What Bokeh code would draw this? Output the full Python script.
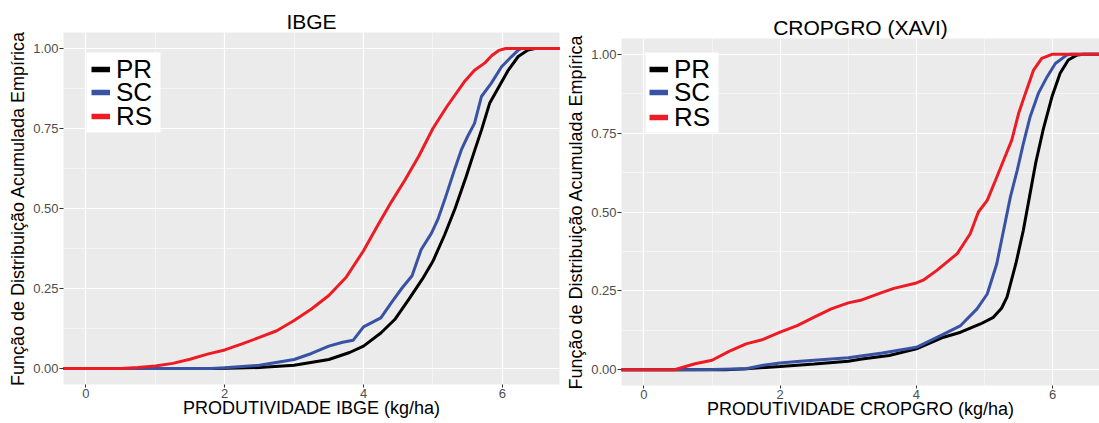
from bokeh.plotting import figure
from bokeh.layouts import row
from bokeh.models import Range1d, FixedTicker, Legend, LegendItem, BoxAnnotation, Node
from bokeh.embed import file_html
from bokeh.resources import INLINE

FONT = "Liberation Sans"

# ---------------- data ----------------
series_names = ["PR", "SC", "RS"]
series_colors = ["#000000", "#3953A4", "#ED1C24"]

x_ticks = [0, 2, 4, 6]
x_minor = [-1, 1, 3, 5, 7]
y_ticks = [0, 0.25, 0.5, 0.75, 1.0]
y_minor = [0.125, 0.375, 0.625, 0.875]
y_tick_labels = ["0.00", "0.25", "0.50", "0.75", "1.00"]
x_tick_labels = ["0", "2", "4", "6"]

# IBGE panel
ibge_pr_x = [-0.5, 1.9, 2.5, 3.0, 3.5, 3.8, 4.0, 4.25, 4.45, 4.65, 4.85, 5.0, 5.17, 5.32, 5.48, 5.6, 5.7, 5.82, 5.95, 6.08, 6.23, 6.37, 6.47, 7.0]
ibge_pr_y = [0, 0, 0.003, 0.01, 0.028, 0.05, 0.07, 0.111, 0.153, 0.215, 0.28, 0.335, 0.418, 0.5, 0.6, 0.68, 0.745, 0.83, 0.88, 0.93, 0.975, 0.995, 1.0, 1.0]

ibge_sc_x = [-0.5, 1.8, 2.0, 2.5, 3.0, 3.25, 3.5, 3.7, 3.85, 4.0, 4.25, 4.4, 4.55, 4.7, 4.83, 4.98, 5.07, 5.17, 5.31, 5.41, 5.5, 5.6, 5.7, 5.84, 5.99, 6.13, 6.23, 6.28, 7.0]
ibge_sc_y = [0, 0, 0.002, 0.01, 0.028, 0.047, 0.07, 0.082, 0.088, 0.13, 0.158, 0.205, 0.25, 0.29, 0.371, 0.423, 0.465, 0.527, 0.62, 0.683, 0.725, 0.766, 0.85, 0.891, 0.943, 0.974, 0.995, 1.0, 1.0]

ibge_rs_x = [-0.5, 0.5, 0.75, 1.0, 1.25, 1.5, 1.75, 2.0, 2.25, 2.5, 2.75, 3.0, 3.25, 3.5, 3.75, 4.0, 4.2, 4.4, 4.6, 4.8, 5.0, 5.2, 5.45, 5.6, 5.75, 5.85, 5.95, 6.05, 7.0]
ibge_rs_y = [0, 0, 0.003, 0.008, 0.016, 0.029, 0.045, 0.058, 0.077, 0.097, 0.118, 0.15, 0.186, 0.228, 0.285, 0.368, 0.445, 0.52, 0.59, 0.665, 0.75, 0.818, 0.895, 0.932, 0.955, 0.978, 0.994, 1.0, 1.0]

# CROPGRO (XAVI) panel
crop_pr_x = [-0.5, 1.2, 1.5, 2.0, 2.5, 3.0, 3.2, 3.6, 4.0, 4.4, 4.65, 4.94, 5.13, 5.25, 5.33, 5.46, 5.57, 5.66, 5.75, 5.86, 5.99, 6.11, 6.23, 6.36, 6.45, 7.0]
crop_pr_y = [0, 0, 0.003, 0.01, 0.018, 0.027, 0.034, 0.045, 0.066, 0.103, 0.119, 0.145, 0.166, 0.195, 0.23, 0.336, 0.442, 0.548, 0.654, 0.76, 0.865, 0.94, 0.982, 0.998, 1.0, 1.0]

crop_sc_x = [-0.5, 0.5, 1.0, 1.5, 1.75, 2.0, 2.25, 2.5, 3.0, 3.5, 4.0, 4.4, 4.65, 4.89, 5.04, 5.18, 5.28, 5.38, 5.48, 5.57, 5.67, 5.79, 5.92, 6.04, 6.21, 6.26, 7.0]
crop_sc_y = [0, 0, 0.001, 0.003, 0.014, 0.021, 0.026, 0.03, 0.038, 0.053, 0.071, 0.113, 0.14, 0.193, 0.24, 0.336, 0.442, 0.548, 0.632, 0.717, 0.802, 0.876, 0.929, 0.971, 0.998, 1.0, 1.0]

crop_rs_x = [-0.5, 0.45, 0.75, 1.0, 1.25, 1.5, 1.75, 2.0, 2.25, 2.5, 2.75, 3.0, 3.18, 3.5, 3.67, 4.0, 4.11, 4.3, 4.6, 4.79, 4.91, 5.04, 5.16, 5.28, 5.4, 5.5, 5.6, 5.72, 5.84, 5.99, 7.0]
crop_rs_y = [0, 0, 0.019, 0.03, 0.058, 0.082, 0.096, 0.119, 0.14, 0.167, 0.193, 0.212, 0.22, 0.245, 0.258, 0.275, 0.285, 0.315, 0.368, 0.431, 0.5, 0.537, 0.6, 0.664, 0.728, 0.812, 0.876, 0.95, 0.987, 1.0, 1.0]

titles = ["IBGE", "CROPGRO (XAVI)"]
x_labels = ["PRODUTIVIDADE IBGE (kg/ha)", "PRODUTIVIDADE CROPGRO (kg/ha)"]
y_label = "Função de Distribuição Acumulada Empírica"


def make_panel(title, xlabel, width, xr, borders, series, box_off, key_x, key_y, title_offset):
    bl, br, bt, bb = borders
    p = figure(width=width, height=423, output_backend="svg", toolbar_location=None,
               x_range=Range1d(*xr), y_range=Range1d(-0.05, 1.05),
               min_border_left=bl, min_border_right=br,
               min_border_top=bt, min_border_bottom=bb, frame_align=False)
    p.background_fill_color = "#EBEBEB"
    p.border_fill_color = "white"
    p.outline_line_color = None

    p.title.text = title
    p.title.text_font = FONT
    p.title.text_font_size = "21px"
    p.title.text_font_style = "normal"
    p.title.text_color = "black"
    p.title.align = "center"
    p.title.standoff = 0
    p.title.offset = title_offset

    p.xaxis.ticker = FixedTicker(ticks=x_ticks, minor_ticks=x_minor)
    p.yaxis.ticker = FixedTicker(ticks=y_ticks, minor_ticks=y_minor)
    p.xaxis.major_label_overrides = {t: l for t, l in zip(x_ticks, x_tick_labels)}
    p.yaxis.major_label_overrides = {t: l for t, l in zip(y_ticks, y_tick_labels)}

    for ax in (p.xaxis, p.yaxis):
        ax.axis_line_color = None
        ax.major_tick_line_color = "#333333"
        ax.major_tick_in = 0
        ax.minor_tick_line_color = None
        ax.major_label_text_font = FONT
        ax.major_label_text_font_size = "13px"
        ax.major_label_text_color = "#4D4D4D"
        ax.axis_label_text_font = FONT
        ax.axis_label_text_font_size = "18px"
        ax.axis_label_text_font_style = "normal"
        ax.axis_label_text_color = "black"
    p.xaxis.major_tick_out = 3
    p.yaxis.major_tick_out = 4
    p.xaxis.major_label_standoff = 0
    p.yaxis.major_label_standoff = 1
    p.xaxis.axis_label = xlabel
    p.yaxis.axis_label = y_label
    p.xaxis.axis_label_standoff = -3
    p.yaxis.axis_label_standoff = 2

    for g in (p.xgrid, p.ygrid):
        g.grid_line_color = "white"
        g.grid_line_width = 1.2
        g.minor_grid_line_color = "#F7F7F7"
        g.minor_grid_line_width = 0.8

    # curves, PR, SC, RS (RS on top)
    for (xs, ys), col in zip(series, series_colors):
        p.line(x=xs, y=ys, line_color=col, line_width=3)

    # white legend box (screen offsets from the frame's top-left corner)
    l, r, t, b = box_off
    box = BoxAnnotation(left=Node(target="frame", symbol="left", offset=l),
                        right=Node(target="frame", symbol="left", offset=r),
                        top=Node(target="frame", symbol="top", offset=t),
                        bottom=Node(target="frame", symbol="top", offset=b),
                        fill_color="white", fill_alpha=1.0, line_color=None,
                        level="annotation")
    p.add_layout(box)

    # one legend per key so that the rows can sit closer than the text height
    for name, col, vy in zip(series_names, series_colors, key_y):
        key = p.line(x=[float("nan")], y=[float("nan")], line_color=col, line_width=5.5)
        lg = Legend(items=[LegendItem(label=name, renderers=[key])], location=(key_x, vy))
        lg.background_fill_alpha = 0.0
        lg.border_line_color = None
        lg.padding = 0
        lg.spacing = 0
        lg.margin = 0
        lg.glyph_width = 19
        lg.glyph_height = 32
        lg.label_height = 32
        lg.label_standoff = 6
        lg.label_text_font = FONT
        lg.label_text_font_size = "26px"
        lg.label_text_color = "black"
        p.add_layout(lg)
    return p


p1 = make_panel(titles[0], x_labels[0], 560, (-0.324, 6.825), (63, 1, 32, 39),
                [(ibge_pr_x, ibge_pr_y), (ibge_sc_x, ibge_sc_y), (ibge_rs_x, ibge_rs_y)],
                (23, 97, 20, 100), 28, [299, 276, 252], 0)
p2 = make_panel(titles[1], x_labels[1], 539, (-0.329, 6.688), (61, 0, 38, 38),
                [(crop_pr_x, crop_pr_y), (crop_sc_x, crop_sc_y), (crop_rs_x, crop_rs_y)],
                (24, 97, 14, 94), 28, [300, 277, 252], 4)

layout = row(p1, p2)
open("out.html", "w").write(file_html(layout, INLINE))
